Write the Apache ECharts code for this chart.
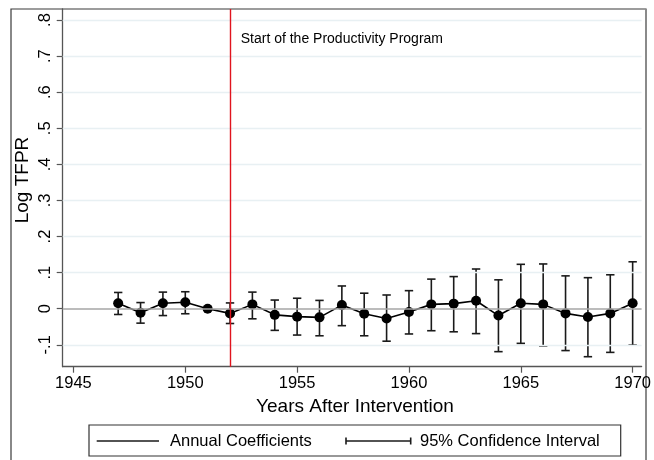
<!DOCTYPE html>
<html>
<head>
<meta charset="utf-8">
<script src="https://cdn.jsdelivr.net/npm/echarts@6/dist/echarts.min.js"></script>
<style>
html,body{margin:0;padding:0;background:#fff;}
#chart{width:654px;height:460px;}
</style>
</head>
<body>
<div id="chart"></div>
<script>
// ---- data ----
var years = [1947, 1948, 1949, 1950, 1951, 1952, 1953, 1954, 1955, 1956, 1957, 1958,
             1959, 1960, 1961, 1962, 1963, 1964, 1965, 1966, 1967, 1968, 1969, 1970];
var coef = [0.015, -0.011, 0.015, 0.018, 0.000, -0.013, 0.012, -0.017, -0.022, -0.024, 0.010, -0.014,
            -0.027, -0.009, 0.012, 0.014, 0.022, -0.019, 0.015, 0.012, -0.013, -0.023, -0.013, 0.015];
var ciLow = [-0.016, -0.040, -0.019, -0.014, null, -0.041, -0.028, -0.060, -0.073, -0.075, -0.047, -0.075,
             -0.090, -0.070, -0.061, -0.064, -0.069, -0.119, -0.096, -0.103, -0.116, -0.133, -0.121, -0.101];
var ciHigh = [0.045, 0.017, 0.046, 0.047, null, 0.016, 0.046, 0.024, 0.029, 0.023, 0.063, 0.043,
              0.038, 0.050, 0.082, 0.089, 0.110, 0.080, 0.123, 0.124, 0.091, 0.086, 0.094, 0.130];
var xTicks = [1945, 1950, 1955, 1960, 1965, 1970];
var xTickLabels = ['1945', '1950', '1955', '1960', '1965', '1970'];
var yTicks = [-0.1, 0, 0.1, 0.2, 0.3, 0.4, 0.5, 0.6, 0.7, 0.8];
var yTickLabels = ['-.1', '0', '.1', '.2', '.3', '.4', '.5', '.6', '.7', '.8'];
var interventionYear = 1952;
var zeroLine = 0;
var annotation = 'Start of the Productivity Program';
var xTitle = 'Years After Intervention';
var yTitle = 'Log TFPR';
var legendNames = ['Annual Coefficients', '95% Confidence Interval'];

// ---- build ----
var FONT = "'Liberation Sans', Arial, Helvetica, sans-serif";
var coefData = years.map(function (y, i) { return [y, coef[i]]; });
var ciData = [];
years.forEach(function (y, i) {
  if (ciLow[i] !== null && ciHigh[i] !== null) ciData.push([y, ciLow[i], ciHigh[i]]);
});
function lookup(vals, labels) {
  return function (v) {
    for (var i = 0; i < vals.length; i++) {
      if (Math.abs(vals[i] - v) < 1e-9) return labels[i];
    }
    return '';
  };
}

var chart = echarts.init(document.getElementById('chart'), null, {renderer: 'canvas'});
var option = {
  animation: false,
  backgroundColor: '#fff',
  grid: {left: 62.7, top: 9, right: 8, bottom: 93.3, containLabel: false},
  xAxis: {
    type: 'value', min: 1944.52, max: 1970.4,
    axisLine: {show: true, onZero: false, lineStyle: {color: '#555', width: 1.3}},
    axisTick: {show: true, customValues: xTicks, length: 6, lineStyle: {color: '#555', width: 1.2}},
    axisLabel: {show: true, customValues: xTicks, margin: 8, color: '#000',
      fontSize: 16.5, fontFamily: FONT, formatter: lookup(xTicks, xTickLabels)},
    splitLine: {show: false}
  },
  yAxis: {
    type: 'value', min: -0.1607, max: 0.8305,
    axisLine: {show: true, onZero: false, lineStyle: {color: '#555', width: 1.3}},
    axisTick: {show: true, customValues: yTicks, length: 6, lineStyle: {color: '#555', width: 1.2}},
    axisLabel: {show: true, customValues: yTicks, margin: 9, rotate: 90, color: '#000',
      fontSize: 16.5, fontFamily: FONT, formatter: lookup(yTicks, yTickLabels)},
    splitLine: {show: false}
  },
  series: [
    {
      name: 'gridlines', type: 'line', data: [], silent: true, z: 1,
      markLine: {
        silent: true, symbol: 'none', animation: false,
        label: {show: false},
        lineStyle: {color: '#e8f0f3', width: 1.3, type: 'solid'},
        emphasis: {disabled: true},
        data: yTicks.filter(function (v) { return v !== zeroLine; }).map(function (v) { return {yAxis: v}; })
      }
    },
    {
      name: 'refs', type: 'line', data: [], silent: true, z: 2,
      markLine: {
        silent: true, symbol: 'none', animation: false,
        label: {show: false},
        emphasis: {disabled: true},
        data: [
          {yAxis: zeroLine, lineStyle: {color: '#a6a6a6', width: 1.6, type: 'solid'}},
          {xAxis: interventionYear, lineStyle: {color: '#e0141e', width: 1.4, type: 'solid'}}
        ]
      }
    },
    {
      name: legendNames[1], type: 'custom', z: 3,
      data: ciData,
      renderItem: function (params, api) {
        var x = api.value(0);
        var top = api.coord([x, api.value(2)]);
        var bot = api.coord([x, api.value(1)]);
        var hw = 4.2;
        var st = {stroke: '#1a1a1a', lineWidth: 1.6};
        return {
          type: 'group',
          children: [
            {type: 'line', shape: {x1: top[0], y1: top[1], x2: bot[0], y2: bot[1]}, style: st},
            {type: 'line', shape: {x1: top[0] - hw, y1: top[1], x2: top[0] + hw, y2: top[1]}, style: st},
            {type: 'line', shape: {x1: bot[0] - hw, y1: bot[1], x2: bot[0] + hw, y2: bot[1]}, style: st}
          ]
        };
      }
    },
    {
      name: legendNames[0], type: 'line', z: 4,
      data: coefData,
      symbol: 'circle', symbolSize: 10,
      itemStyle: {color: '#000'},
      lineStyle: {color: '#000', width: 1.6},
      emphasis: {disabled: true}
    }
  ],
  graphic: [
    // outer frame
    {type: 'rect', silent: true, z: 0,
      shape: {x: 11, y: 9, width: 635, height: 470},
      style: {fill: null, stroke: '#3a3a3a', lineWidth: 1.2}},
    {type: 'line', silent: true, z: 0,
      shape: {x1: 646, y1: 9, x2: 646, y2: 460},
      style: {stroke: '#8a8a8a', lineWidth: 2}},
    // annotation
    {type: 'text', silent: true, x: 240.7, y: 39,
      style: {text: annotation, font: '14px ' + FONT, fill: '#000', align: 'left', verticalAlign: 'middle'}},
    // axis titles
    {type: 'text', silent: true, x: 23, y: 180, rotation: Math.PI / 2,
      style: {text: yTitle, font: '19px ' + FONT, fill: '#000', align: 'center', verticalAlign: 'middle'}},
    {type: 'text', silent: true, x: 355, y: 407,
      style: {text: xTitle, font: '19px ' + FONT, fill: '#000', align: 'center', verticalAlign: 'middle'}},
    // legend
    {type: 'rect', silent: true,
      shape: {x: 89, y: 425, width: 531.7, height: 31},
      style: {fill: '#fff', stroke: '#333', lineWidth: 1.2}},
    {type: 'line', silent: true,
      shape: {x1: 96.7, y1: 441, x2: 159, y2: 441},
      style: {stroke: '#1a1a1a', lineWidth: 1.6}},
    {type: 'text', silent: true, x: 170, y: 441,
      style: {text: legendNames[0], font: '16.5px ' + FONT, fill: '#000', align: 'left', verticalAlign: 'middle'}},
    {type: 'line', silent: true,
      shape: {x1: 346, y1: 441, x2: 410.7, y2: 441},
      style: {stroke: '#1a1a1a', lineWidth: 1.6}},
    {type: 'line', silent: true,
      shape: {x1: 346, y1: 437.5, x2: 346, y2: 444.5},
      style: {stroke: '#1a1a1a', lineWidth: 1.6}},
    {type: 'line', silent: true,
      shape: {x1: 410.7, y1: 437.5, x2: 410.7, y2: 444.5},
      style: {stroke: '#1a1a1a', lineWidth: 1.6}},
    {type: 'text', silent: true, x: 420, y: 441,
      style: {text: legendNames[1], font: '16.5px ' + FONT, fill: '#000', align: 'left', verticalAlign: 'middle'}}
  ]
};
chart.setOption(option);
</script>
</body>
</html>
